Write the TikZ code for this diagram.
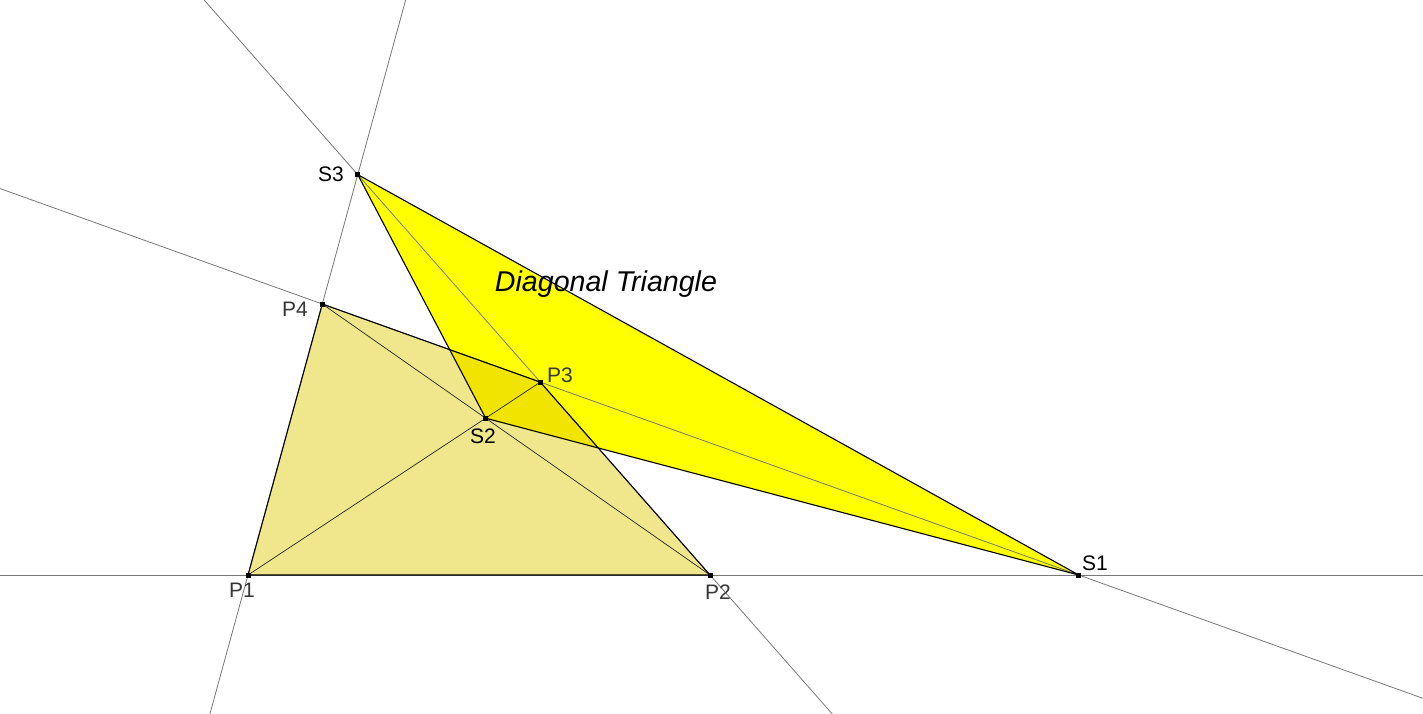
\documentclass[tikz,border=0pt]{standalone}
\usepackage{fontspec}
\setmainfont{Liberation Sans}
\usetikzlibrary{calc}
\definecolor{khakifill}{RGB}{240,230,140}
\definecolor{yellowfill}{RGB}{255,255,0}
\definecolor{overlapfill}{RGB}{240,228,0}
\definecolor{extgray}{RGB}{120,120,120}
\definecolor{plabel}{RGB}{55,55,55}
\tikzset{
  extline/.style={draw=extgray, line width=0.8pt},
  edge/.style={draw=black, line width=1.1pt},
  diag/.style={draw=black!85, line width=0.7pt},
  ptmark/.style={fill=black, minimum size=5pt, inner sep=0pt, outer sep=0pt, rectangle},
  plab/.style={text=plabel, font=\fontsize{21}{21}\selectfont, inner sep=1pt},
  slab/.style={text=black, font=\fontsize{21}{21}\selectfont, inner sep=1pt},
}
\begin{document}
\begin{tikzpicture}[x=1pt,y=-1pt]
\path[use as bounding box, fill=white] (0,0) rectangle (1423,713);
\coordinate (P1) at (248,575);
\coordinate (P2) at (710,575);
\coordinate (P3) at (540.3,382.1);
\coordinate (P4) at (322.3,304);
\coordinate (S1) at (intersection of P1--P2 and P4--P3);
\coordinate (S2) at (intersection of P1--P3 and P2--P4);
\coordinate (S3) at (intersection of P1--P4 and P2--P3);
% fills
\fill[khakifill] (P1) -- (P2) -- (P3) -- (P4) -- cycle;
\fill[yellowfill] (S1) -- (S2) -- (S3) -- cycle;
\begin{scope}
  \clip (P1) -- (P2) -- (P3) -- (P4) -- cycle;
  \fill[overlapfill] (S1) -- (S2) -- (S3) -- cycle;
\end{scope}
% extended lines
\begin{scope}
  \clip (0,0) rectangle (1423,713);
  \coordinate (L1a) at ($(P1)!-10!(P2)$);
  \coordinate (L1b) at ($(P2)!-10!(P1)$);
  \coordinate (L2a) at ($(P1)!-10!(P4)$);
  \coordinate (L2b) at ($(P4)!-10!(P1)$);
  \coordinate (L3a) at ($(P2)!-10!(P3)$);
  \coordinate (L3b) at ($(P3)!-10!(P2)$);
  \coordinate (L4a) at ($(P4)!-10!(P3)$);
  \coordinate (L4b) at ($(P3)!-10!(P4)$);
  \draw[extline] (L1a) -- (L1b);
  \draw[extline] (L2a) -- (L2b);
  \draw[extline] (L3a) -- (L3b);
  \draw[extline] (L4a) -- (L4b);
\end{scope}
% diagonals
\draw[diag] (P1) -- (P3);
\draw[diag] (P2) -- (P4);
% polygon edges
\draw[edge, line join=round] (P1) -- (P2) -- (P3) -- (P4) -- cycle;
\draw[edge, line join=round] (S1) -- (S2) -- (S3) -- cycle;
% point markers
\foreach \p in {P1,P2,P3,P4,S1,S2,S3}
  \node[ptmark] (m\p) at (\p) {};
% labels
\node[plab] (tP1) at (242,590) {P1};
\node[plab] (tP2) at (718,592) {P2};
\node[plab] (tP3) at (560,375) {P3};
\node[plab] (tP4) at (295,309) {P4};
\node[slab] (tS1) at (1095,563) {S1};
\node[slab] (tS2) at (483,436) {S2};
\node[slab] (tS3) at (331,174) {S3};
\node[font=\fontsize{28.6}{28.6}\selectfont\itshape, inner sep=0pt] (title) at (606,284) {Diagonal Triangle};
\end{tikzpicture}
\end{document}
